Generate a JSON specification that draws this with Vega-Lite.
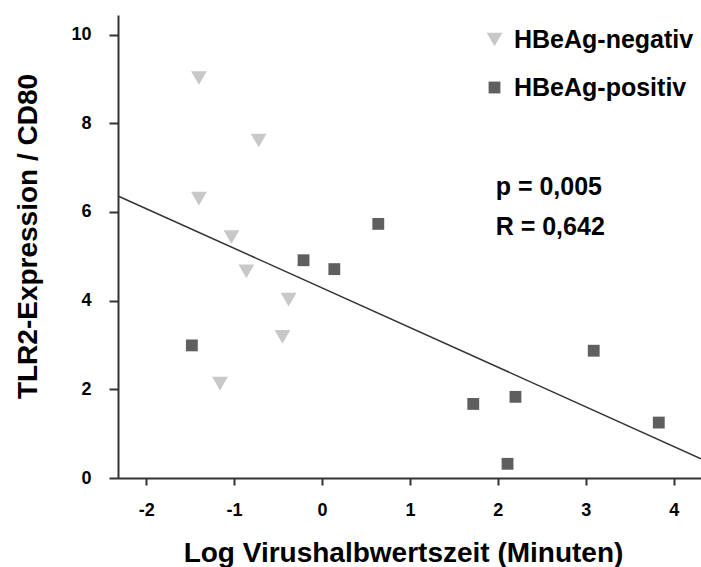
{
  "$schema": "https://vega.github.io/schema/vega-lite/v6.json",
  "width": 583,
  "height": 463,
  "autosize": {"type": "none"},
  "padding": {"left": 118, "top": 15, "right": 0, "bottom": 89},
  "background": "white",
  "config": {
    "view": {"stroke": null},
    "font": "Liberation Sans",
    "axis": {
      "grid": false,
      "domainColor": "#333333",
      "domainWidth": 2,
      "tickColor": "#333333",
      "tickWidth": 2,
      "labelFont": "Liberation Sans",
      "labelFontWeight": "bold",
      "labelFontSize": 18,
      "labelColor": "#000000",
      "labelExpr": "datum.value < 0 ? '-' + abs(datum.value) : '' + datum.value",
      "titleFont": "Liberation Sans",
      "titleFontWeight": "bold",
      "titleFontSize": 28,
      "titleColor": "#000000"
    },
    "legend": {
      "title": null,
      "orient": "none",
      "legendX": 364,
      "legendY": 12,
      "padding": 0,
      "labelFont": "Liberation Sans",
      "labelFontSize": 25,
      "labelFontWeight": "bold",
      "labelColor": "#000000",
      "labelLimit": 400,
      "labelOffset": 7,
      "rowPadding": 22
    }
  },
  "datasets": {
    "fit": [
      {"logHalfLife": -2.32, "tlr2": 6.36},
      {"logHalfLife": 4.31, "tlr2": 0.435}
    ],
    "patients": [
      {"logHalfLife": -1.40, "tlr2": 9.02, "group": "HBeAg-negativ"},
      {"logHalfLife": -0.72, "tlr2": 7.61, "group": "HBeAg-negativ"},
      {"logHalfLife": -1.40, "tlr2": 6.30, "group": "HBeAg-negativ"},
      {"logHalfLife": -1.03, "tlr2": 5.43, "group": "HBeAg-negativ"},
      {"logHalfLife": -0.86, "tlr2": 4.66, "group": "HBeAg-negativ"},
      {"logHalfLife": -0.38, "tlr2": 4.02, "group": "HBeAg-negativ"},
      {"logHalfLife": -0.45, "tlr2": 3.18, "group": "HBeAg-negativ"},
      {"logHalfLife": -1.16, "tlr2": 2.13, "group": "HBeAg-negativ"},
      {"logHalfLife": -0.21, "tlr2": 4.91, "group": "HBeAg-positiv"},
      {"logHalfLife": 0.14, "tlr2": 4.71, "group": "HBeAg-positiv"},
      {"logHalfLife": -1.48, "tlr2": 2.99, "group": "HBeAg-positiv"},
      {"logHalfLife": 0.64, "tlr2": 5.73, "group": "HBeAg-positiv"},
      {"logHalfLife": 1.72, "tlr2": 1.67, "group": "HBeAg-positiv"},
      {"logHalfLife": 2.20, "tlr2": 1.83, "group": "HBeAg-positiv"},
      {"logHalfLife": 2.11, "tlr2": 0.32, "group": "HBeAg-positiv"},
      {"logHalfLife": 3.09, "tlr2": 2.87, "group": "HBeAg-positiv"},
      {"logHalfLife": 3.83, "tlr2": 1.25, "group": "HBeAg-positiv"}
    ],
    "stats": [
      {"logHalfLife": 1.975, "tlr2": 6.57, "label": "p = 0,005"},
      {"logHalfLife": 1.975, "tlr2": 5.67, "label": "R = 0,642"}
    ]
  },
  "encoding": {
    "x": {
      "field": "logHalfLife",
      "type": "quantitative",
      "scale": {"domain": [-2.32, 4.31], "nice": false, "zero": false},
      "axis": {
        "title": "Log Virushalbwertszeit (Minuten)",
        "values": [-2, -1, 0, 1, 2, 3, 4],
        "tickSize": 7,
        "labelPadding": 16,
        "titleBaseline": "alphabetic",
        "titleX": 285,
        "titleY": 83
      }
    },
    "y": {
      "field": "tlr2",
      "type": "quantitative",
      "scale": {"domain": [0, 10.44], "nice": false},
      "axis": {
        "title": "TLR2-Expression / CD80",
        "values": [0, 2, 4, 6, 8, 10],
        "tickSize": 9,
        "labelPadding": 18,
        "titleBaseline": "alphabetic",
        "titleX": -82,
        "titleY": 221
      }
    }
  },
  "layer": [
    {
      "data": {"name": "fit"},
      "mark": {"type": "line", "color": "#333333", "strokeWidth": 1.5},
      "encoding": {}
    },
    {
      "data": {"name": "patients"},
      "mark": {"type": "point", "filled": true, "opacity": 1},
      "encoding": {
        "color": {
          "field": "group",
          "type": "nominal",
          "scale": {"domain": ["HBeAg-negativ", "HBeAg-positiv"], "range": ["#c8c8c8", "#5f5f5f"]}
        },
        "shape": {
          "field": "group",
          "type": "nominal",
          "scale": {"domain": ["HBeAg-negativ", "HBeAg-positiv"], "range": ["triangle-down", "square"]}
        },
        "size": {
          "field": "group",
          "type": "nominal",
          "scale": {"domain": ["HBeAg-negativ", "HBeAg-positiv"], "range": [250, 140]}
        }
      }
    },
    {
      "data": {"name": "stats"},
      "mark": {"type": "text", "align": "left", "baseline": "middle", "fontSize": 25, "fontWeight": "bold", "color": "#000000", "font": "Liberation Sans"},
      "encoding": {"text": {"field": "label"}}
    }
  ]
}
